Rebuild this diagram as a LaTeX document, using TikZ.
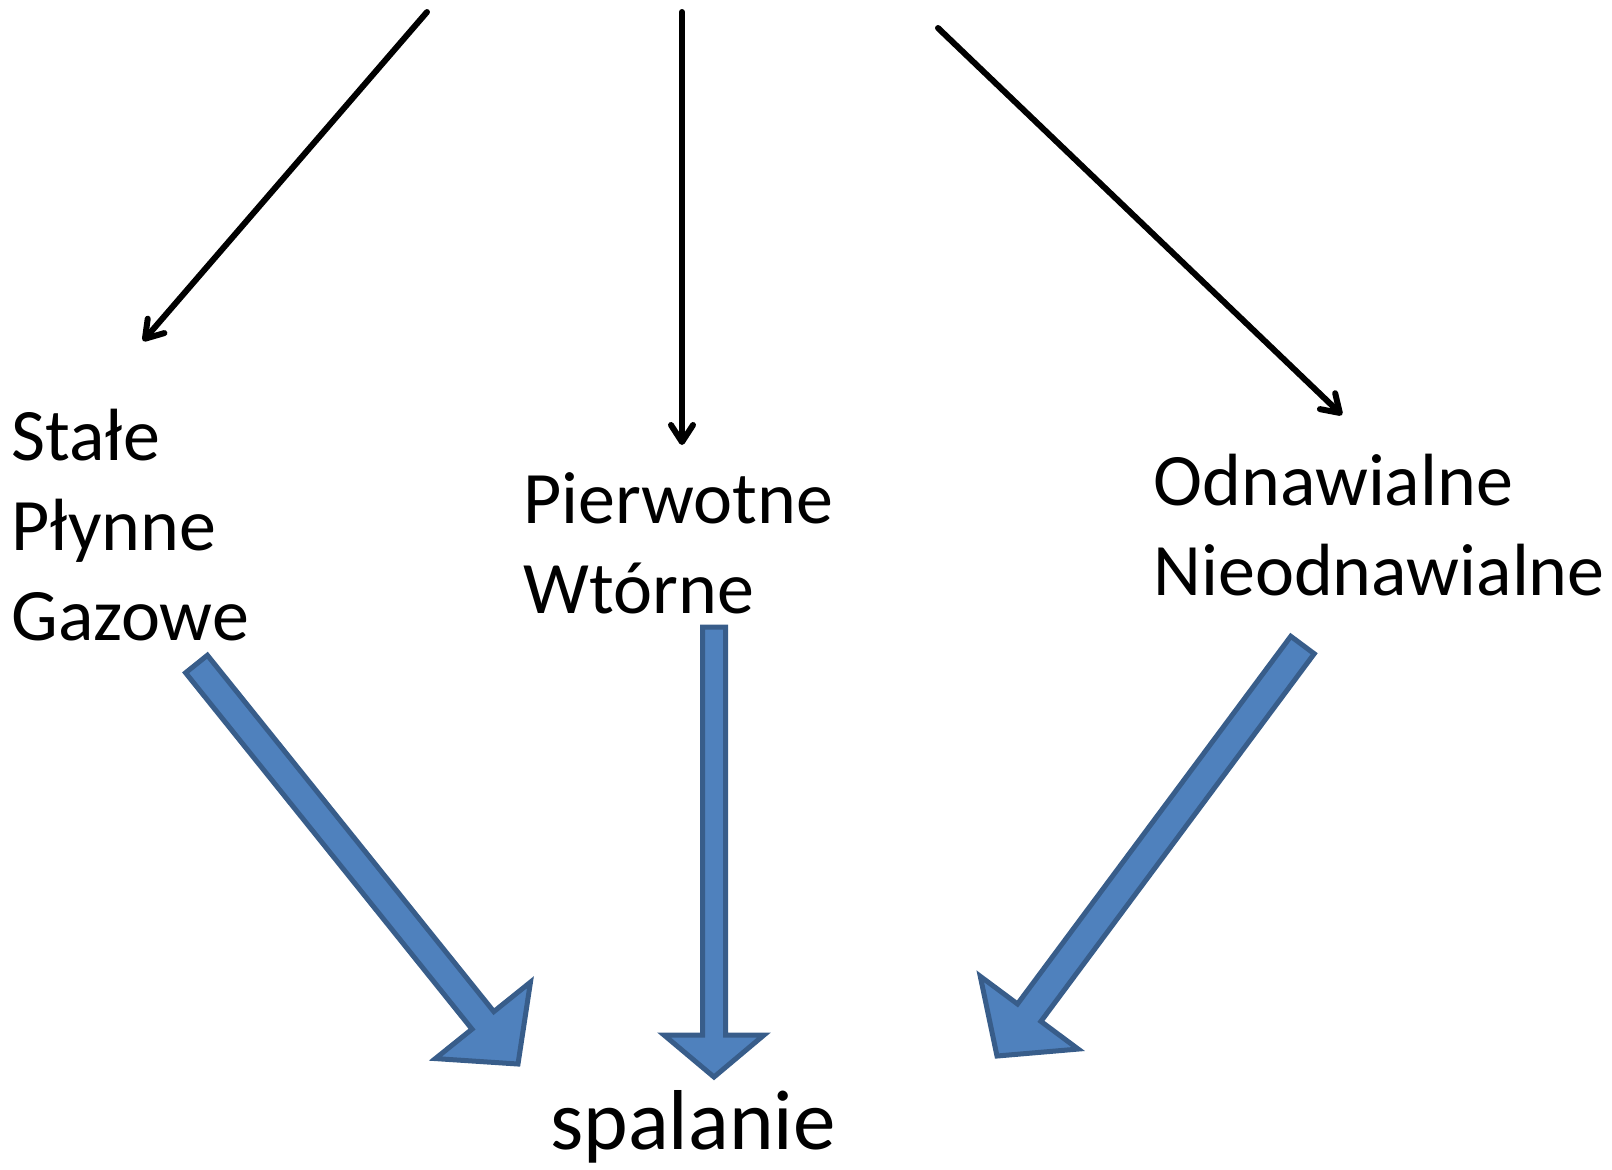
\documentclass[tikz,border=0pt]{standalone}
\usepackage{fontspec}
\setmainfont{Carlito}
\usetikzlibrary{calc,arrows.meta}
\definecolor{arrowfill}{HTML}{4F81BD}
\definecolor{arrowedge}{HTML}{385D8A}
\tikzset{
  thinarrow/.style={line width=3pt, line cap=round, -{Straight Barb[length=8.5pt,width=11pt,round]}},
  fatarrow/.style={fill=arrowfill, draw=arrowedge, line width=2.5pt, line join=miter},
  wordlist/.style={anchor=north west, inner sep=0pt, align=left, font=\fontsize{37}{45}\selectfont}
}
% #1 tail, #2 tip, #3 half shaft, #4 head length, #5 half head
\newcommand\blockarrow[5]{%
  \coordinate (ba) at ($(#2)!#4!(#1)$);
  \draw[fatarrow] ($(#1)!#3!90:(#2)$) -- ($(ba)!#3!90:(#2)$) -- ($(ba)!#5!90:(#2)$) -- (#2)
    -- ($(ba)!#5!-90:(#2)$) -- ($(ba)!#3!-90:(#2)$) -- ($(#1)!#3!-90:(#2)$) -- cycle;
}

\begin{document}
\begin{tikzpicture}[x=0.5pt,y=-0.5pt]
     \useasboundingbox (0,0) rectangle (1612,1169);
     \node[wordlist] (state) at (11,397) {\strut Stałe\\Płynne\\Gazowe};
     \node[wordlist] (origin) at (523,460) {\strut Pierwotne\\Wtórne};
     \node[wordlist] (renew) at (1153,442) {\strut Odnawialne\\Nieodnawialne};
     \node[anchor=base west, inner sep=0pt, font=\fontsize{42.5}{51}\selectfont] (burn) at (550,1149) {spalanie};

     \coordinate (stateTop) at (427,12);
     \coordinate (stateEnd) at (143,341);
     \coordinate (originTop) at (682,12);
     \coordinate (originEnd) at (682,445);
     \coordinate (renewTop) at (938,28);
     \coordinate (renewEnd) at (1342,415);
     \draw[thinarrow] (stateTop) -- (stateEnd);
     \draw[thinarrow] (originTop) -- (originEnd);
     \draw[thinarrow] (renewTop) -- (renewEnd);

     \coordinate (stateTail) at (196.5,664);
     \coordinate (stateTip) at (518,1064);
     \coordinate (originTail) at (714,627);
     \coordinate (originTip) at (714,1077);
     \coordinate (renewTail) at (1302.5,645);
     \coordinate (renewTip) at (997,1056);
     \blockarrow{stateTail}{stateTip}{7pt}{28pt}{30.5pt}
     \blockarrow{originTail}{originTip}{5.75pt}{21pt}{25pt}
     \blockarrow{renewTail}{renewTip}{7.3pt}{27pt}{30.5pt}
\end{tikzpicture}
\end{document}
